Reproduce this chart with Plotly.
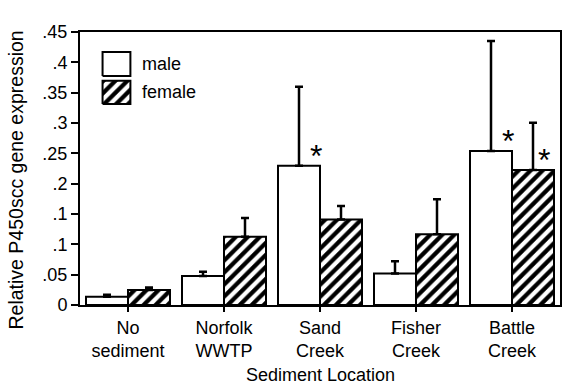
import plotly.graph_objects as go

categories = ["No<br>sediment", "Norfolk<br>WWTP", "Sand<br>Creek", "Fisher<br>Creek", "Battle<br>Creek"]
male_vals = [0.0137, 0.0478, 0.2297, 0.052, 0.254]
male_err = [0.003, 0.007, 0.130, 0.020, 0.181]
female_vals = [0.0247, 0.1126, 0.141, 0.1165, 0.2225]
female_err = [0.004, 0.031, 0.022, 0.058, 0.078]

ytick_vals = [0, 0.05, 0.1, 0.15, 0.2, 0.25, 0.3, 0.35, 0.4, 0.45]
ytick_text = ["0", ".05", ".1", ".1", ".2", ".25", ".3", ".35", ".4", ".45"]

# significance stars: (category index, series)
star_cat = [2, 4, 4]
star_series = ["male", "male", "female"]

FONT = "Liberation Sans, Arial, sans-serif"
PAT = dict(shape="/", fgcolor="black", bgcolor="white", fgopacity=1,
           fillmode="replace", size=8.5, solidity=0.5)

fig = go.Figure()
fig.add_trace(go.Bar(
    x=categories, y=male_vals, name="male",
    marker=dict(color="white", line=dict(color="black", width=2)),
    error_y=dict(type="data", array=male_err, arrayminus=[0]*5, symmetric=False,
                 color="black", thickness=2.5, width=4),
    showlegend=False,
))
fig.add_trace(go.Bar(
    x=categories, y=female_vals, name="female",
    marker=dict(color="white", line=dict(color="black", width=2), pattern=PAT),
    error_y=dict(type="data", array=female_err, arrayminus=[0]*5, symmetric=False,
                 color="black", thickness=2.5, width=4),
    showlegend=False,
))

# custom legend boxes on an overlay axis (plot-area fractions)
fig.add_trace(go.Scatter(
    x=[0.047, 0.105, 0.105, 0.047, 0.047], y=[0.839, 0.839, 0.927, 0.927, 0.839],
    xaxis="x2", yaxis="y2", mode="lines", fill="toself", fillcolor="white",
    line=dict(color="black", width=2), showlegend=False, hoverinfo="skip",
))
fig.add_trace(go.Scatter(
    x=[0.047, 0.105, 0.105, 0.047, 0.047], y=[0.736, 0.736, 0.821, 0.821, 0.736],
    xaxis="x2", yaxis="y2", mode="lines", fill="toself", fillcolor="white",
    fillpattern=PAT,
    line=dict(color="black", width=2), showlegend=False, hoverinfo="skip",
))

annotations = [
    dict(text="male", x=0.125, y=0.883, xref="x2", yref="y2", showarrow=False,
         xanchor="left", yanchor="middle", font=dict(family=FONT, size=18, color="black")),
    dict(text="female", x=0.125, y=0.779, xref="x2", yref="y2", showarrow=False,
         xanchor="left", yanchor="middle", font=dict(family=FONT, size=18, color="black")),
    dict(text="Sediment Location", x=0.5, y=0, xref="paper", yref="paper",
         yshift=-70, showarrow=False, xanchor="center", yanchor="middle",
         font=dict(family=FONT, size=18, color="black")),
    dict(text="Relative P450scc gene expression", x=0, y=0.5, xref="paper", yref="paper",
         xshift=-65, yshift=-12, textangle=-90, showarrow=False, xanchor="center", yanchor="middle",
         font=dict(family=FONT, size=19.5, color="black")),
]
for ci, s in zip(star_cat, star_series):
    val = male_vals[ci] if s == "male" else female_vals[ci]
    xs = -4 if s == "male" else 32
    annotations.append(dict(
        text="*", x=ci, y=val, xref="x", yref="y", showarrow=False,
        xanchor="center", yanchor="middle", xshift=xs, yshift=10,
        font=dict(family=FONT, size=32, color="black")))

fig.update_layout(
    width=562, height=385,
    margin=dict(l=80, r=2, t=32, b=80),
    paper_bgcolor="white", plot_bgcolor="white",
    barmode="group", bargap=0.125, bargroupgap=0,
    font=dict(family=FONT, size=18, color="black"),
    xaxis=dict(
        automargin=False,
        showline=True, linecolor="black", linewidth=2, mirror=True,
        ticks="outside", ticklen=5, tickwidth=2, tickcolor="black",
        tickfont=dict(family=FONT, size=18, color="black"),
        showgrid=False, zeroline=False,
    ),
    yaxis=dict(
        automargin=False,
        range=[0, 0.45],
        showline=True, linecolor="black", linewidth=2, mirror=True,
        ticks="outside", ticklen=7, tickwidth=2, tickcolor="black",
        tickvals=ytick_vals, ticktext=ytick_text,
        tickfont=dict(family=FONT, size=18, color="black"),
        showgrid=False, zeroline=False,
    ),
    xaxis2=dict(overlaying="x", range=[0, 1], visible=False, anchor="y2", automargin=False),
    yaxis2=dict(overlaying="y", range=[0, 1], visible=False, anchor="x2", automargin=False),
    annotations=annotations,
)

fig.write_html("out.html", config={"displayModeBar": False},
               post_script="document.body.style.margin='0';document.body.style.padding='0';")
